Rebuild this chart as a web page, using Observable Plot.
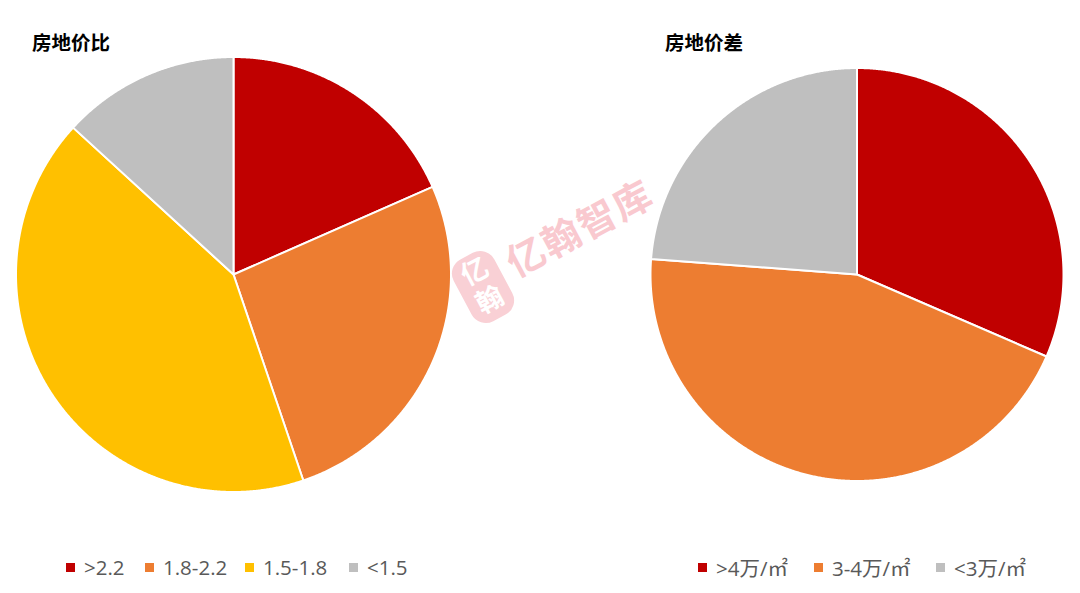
<!DOCTYPE html>
<html><head><meta charset="utf-8">
<script src="https://cdn.jsdelivr.net/npm/d3@7"></script>
<script src="https://cdn.jsdelivr.net/npm/@observablehq/plot@0.6"></script>
<style>
body{margin:0;background:#fff;font-family:"Noto Sans CJK SC","Noto Sans",sans-serif;}
#wrap{position:relative;width:1080px;height:593px;overflow:hidden;}
.pane{position:absolute;top:0;}
.title{position:absolute;font-weight:bold;font-size:19.5px;color:#000;line-height:1;}
.legend{position:absolute;top:555px;display:flex;align-items:center;font-size:20.5px;color:#595959;font-family:"Open Sans","Noto Sans CJK SC",sans-serif;white-space:nowrap;}
.legend span.sw{display:inline-block;width:9px;height:9px;margin-right:9px;}
.legend span.it{display:inline-flex;align-items:center;position:absolute;}
.wm{position:absolute;color:#f9c9cf;font-weight:bold;font-size:38px;transform:rotate(-28deg);transform-origin:left center;white-space:nowrap;letter-spacing:2px;}
.logo{position:absolute;width:46px;height:70px;border-radius:16px;background:#f9d0d5;transform:rotate(-28deg);color:#fff;font-weight:bold;font-size:27px;line-height:32px;text-align:center;}
</style></head>
<body><div id="wrap"></div>
<script>
const leftLabels = [">2.2", "1.8-2.2", "1.5-1.8", "<1.5"];
const leftValues = [18.4, 26.4, 42.0, 13.2];
const leftColors = ["#C00000", "#ED7D31", "#FFC000", "#BFBFBF"];
const rightLabels = [">4万/㎡", "3-4万/㎡", "<3万/㎡"];
const rightValues = [31.5, 44.7, 23.8];
const rightColors = ["#C00000", "#ED7D31", "#BFBFBF"];

function slicePoints(labels, values) {
  const pie = d3.pie().sort(null).value(d => d.value);
  const arcs = pie(labels.map((k, i) => ({k, value: values[i]})));
  const pts = [];
  for (const a of arcs) {
    const k = a.data.k;
    pts.push({x: 0, y: 0, k});
    const n = Math.max(2, Math.ceil((a.endAngle - a.startAngle) / 0.005));
    for (let i = 0; i <= n; i++) {
      const t = a.startAngle + (a.endAngle - a.startAngle) * i / n;
      pts.push({x: Math.sin(t), y: Math.cos(t), k});
    }
    pts.push({x: 0, y: 0, k});
  }
  return pts;
}

function piePlot(labels, values, colors, cx, cy, r) {
  return Plot.plot({
    width: 540, height: 593, margin: 0,
    x: {domain: [-1, 1], range: [cx - r, cx + r], axis: null},
    y: {domain: [-1, 1], range: [cy + r, cy - r], axis: null},
    color: {domain: labels, range: colors},
    marks: [
      Plot.line(slicePoints(labels, values), {x: "x", y: "y", z: "k", fill: "k", stroke: "white", strokeWidth: 2, strokeLinejoin: "round"})
    ]
  });
}

const wrap = document.getElementById("wrap");
function addPane(el, left) { const d = document.createElement("div"); d.className = "pane"; d.style.left = left + "px"; d.appendChild(el); wrap.appendChild(d); }
addPane(piePlot(leftLabels, leftValues, leftColors, 233, 274, 217.5), 0);
addPane(piePlot(rightLabels, rightValues, rightColors, 316.5, 274, 206.5), 540);

function addTitle(text, x) { const t = document.createElement("div"); t.className = "title"; t.textContent = text; t.style.left = x + "px"; t.style.top = "32px"; wrap.appendChild(t); }
addTitle("房地价比", 32);
addTitle("房地价差", 665);

function addLegend(labels, colors, xs) {
  const lg = document.createElement("div"); lg.className = "legend"; lg.style.left = "0px"; lg.style.height = "24px"; lg.style.width = "1080px";
  labels.forEach((l, i) => {
    const it = document.createElement("span"); it.className = "it"; it.style.left = xs[i] + "px";
    const sw = document.createElement("span"); sw.className = "sw"; sw.style.background = colors[i];
    it.appendChild(sw); it.appendChild(document.createTextNode(l)); lg.appendChild(it);
  });
  wrap.appendChild(lg);
}
addLegend(leftLabels, leftColors, [66, 145, 245, 349]);
addLegend(rightLabels, rightColors, [698, 814, 936]);

const logo = document.createElement("div"); logo.className = "logo"; logo.style.left = "460px"; logo.style.top = "252px"; logo.innerHTML = "亿<br>翰"; wrap.appendChild(logo);
const wm = document.createElement("div"); wm.className = "wm"; wm.textContent = "亿翰智库"; wm.style.left = "508px"; wm.style.top = "236px"; wrap.appendChild(wm);
</script></body></html>
